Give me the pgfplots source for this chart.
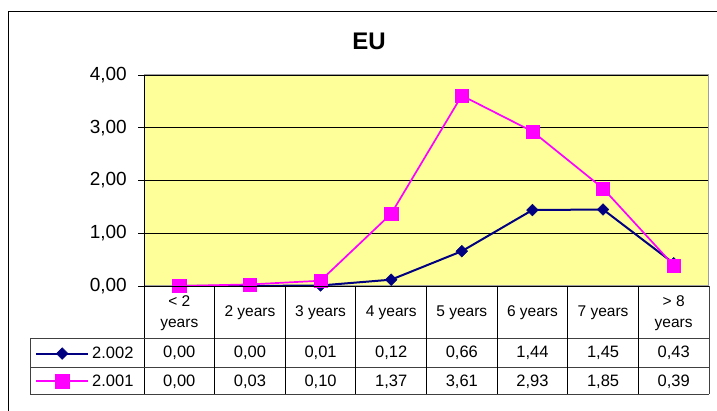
\documentclass[border=0pt]{standalone}
\usepackage{pgfplots}
\usepackage{pgfplotstable}
\pgfplotsset{compat=1.18}
\usepackage{fontspec}
\setmainfont{Liberation Sans}
\definecolor{navyc}{RGB}{0,0,128}
\definecolor{magc}{RGB}{255,0,255}
\definecolor{plotbg}{RGB}{255,255,153}

\pgfplotstableread{
x y2002 y2001
0 0.00 0.00
1 0.00 0.03
2 0.01 0.10
3 0.12 1.37
4 0.66 3.61
5 1.44 2.93
6 1.45 1.85
7 0.43 0.39
}\datatable

\begin{document}
\begin{tikzpicture}[x=1pt,y=1pt]
\useasboundingbox (0,0) rectangle (717,411);
\draw[black, line width=0.9pt] (8,-2) -- (8,400) -- (719,400);
\node[font=\fontsize{24}{26}\selectfont\bfseries] at (369,370) {EU};
\begin{axis}[
  at={(144pt,125pt)}, anchor=south west,
  scale only axis, width=565pt, height=211pt,
  xmin=-0.5, xmax=7.5, ymin=0, ymax=4,
  xtick={0,...,7},
  xticklabels={{< 2\\years},{2 years},{3 years},{4 years},{5 years},{6 years},{7 years},{> 8\\years}},
  xtick style={draw=none},
  xticklabel style={font=\fontsize{15.5}{21}\selectfont, align=center, anchor=center, yshift=-27pt},
  ytick={0,1,2,3,4},
  ytick pos=left,
  ymajorgrids, grid style={black, line width=0.7pt},
  axis background/.style={fill=plotbg},
  axis line style={draw=gray!75, line width=1pt},
  tick align=inside, major tick length=6pt,
  ytick style={black, line width=0.7pt, xshift=-6pt},
  yticklabel style={font=\fontsize{19}{21}\selectfont, inner sep=0pt, anchor=east, xshift=-17pt},
  /pgf/number format/.cd, fixed, fixed zerofill, precision=2, use comma, assume math mode=true,
  /pgfplots/.cd,
  clip=false,
  legend cell align=left,
  legend image code/.code={\draw[mark repeat=2,mark phase=2,#1] plot coordinates {(0pt,0pt) (26pt,0pt) (52pt,0pt)};},
  legend style={at={(axis description cs:-0.1929,-0.386)}, anchor=west, draw=none, fill=none,
    inner xsep=0pt, inner ysep=0pt, row sep=10.7pt, column sep=1pt,
    font=\fontsize{16.5}{18}\selectfont},
]
\addplot[navyc, line width=2pt, mark=square*, mark size=4.1pt, mark options={rotate=45, solid, line width=0.5pt}] table[x=x, y=y2002] {\datatable};
\addlegendentry{2.002}
\addplot[magc, line width=1.7pt, mark=square*, mark size=6.6pt, mark options={solid, line width=0.5pt}] table[x=x, y=y2001] {\datatable};
\addlegendentry{2.001}
\end{axis}
% axis overlays
\draw[black, line width=0.9pt] (144,336) -- (144,17);
\draw[black, line width=0.9pt] (144,125) -- (709,125);
% table lines
\draw[black!75, line width=0.9pt] (30,73) -- (709,73);
\draw[black!75, line width=0.9pt] (30,44) -- (709,44);
\draw[black!75, line width=0.9pt] (30,17) -- (709,17);
\draw[black!75, line width=0.9pt] (30,73) -- (30,17);
\draw[black!75, line width=0.9pt] (709,125) -- (709,17);
\foreach \xx in {214.6,285.3,355.9,426.5,497.1,567.8,638.4} {
  \draw[black, line width=0.9pt] (\xx,125) -- (\xx,17);
}
% table values
\begin{scope}[every node/.style={font=\fontsize{16.5}{18}\selectfont}]
\foreach \xx/\va/\vb in {179.3/{0,00}/{0,00}, 249.9/{0,00}/{0,03}, 320.6/{0,01}/{0,10}, 391.2/{0,12}/{1,37}, 461.8/{0,66}/{3,61}, 532.4/{1,44}/{2,93}, 603.1/{1,45}/{1,85}, 673.7/{0,43}/{0,39}} {
  \node at (\xx,58) {\va};
  \node at (\xx,29) {\vb};
}
\end{scope}
\end{tikzpicture}
\end{document}
